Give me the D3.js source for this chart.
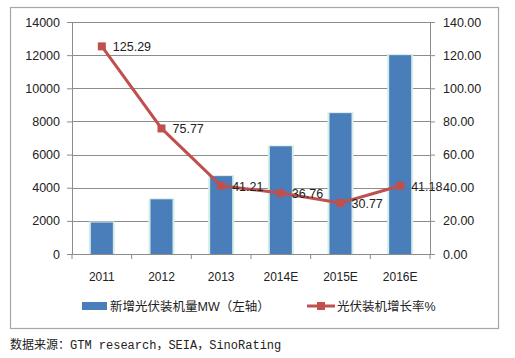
<!DOCTYPE html>
<html>
<head>
<meta charset="utf-8">
<script src="https://cdn.jsdelivr.net/npm/d3@7"></script>
<style>
  body { margin: 0; background: #fff; }
  text { font-family: "Liberation Sans", "Noto Sans CJK SC", sans-serif; fill: #222; }
</style>
</head>
<body>
<svg id="chart" width="515" height="358"></svg>
<script>
var years = ["2011", "2012", "2013", "2014E", "2015E", "2016E"];
var installMW = [1900, 3300, 4700, 6500, 8500, 12000];
var growthPct = [125.29, 75.77, 41.21, 36.76, 30.77, 41.18];
var leftTicks = [0, 2000, 4000, 6000, 8000, 10000, 12000, 14000];
var rightTicks = [0, 20, 40, 60, 80, 100, 120, 140];

var svg = d3.select("#chart");
var plotL = 72, plotR = 430, plotT = 22, plotB = 254;

// outer frame
svg.append("rect").attr("x", 10.5).attr("y", 7.5).attr("width", 488).attr("height", 321)
  .attr("fill", "#fff").attr("stroke", "#a6a6a6").attr("stroke-width", 1.2);

var x = d3.scaleBand().domain(years).range([plotL, plotR]);
var yL = d3.scaleLinear().domain([0, 14000]).range([plotB, plotT]);
var yR = d3.scaleLinear().domain([0, 140]).range([plotB, plotT]);

// gridlines
svg.append("g").selectAll("line").data(leftTicks.slice(1)).join("line")
  .attr("x1", plotL).attr("x2", plotR)
  .attr("y1", function (d) { return Math.round(yL(d)) + 0.5; })
  .attr("y2", function (d) { return Math.round(yL(d)) + 0.5; })
  .attr("stroke", "#8c8c8c").attr("stroke-width", 1);

// bars with a soft glow edge
var bw = 22;
svg.append("g").selectAll("rect").data(installMW).join("rect")
  .attr("x", function (d, i) { return x(years[i]) + x.bandwidth() / 2 - bw / 2 - 2; })
  .attr("y", function (d) { return yL(d) - 1; })
  .attr("width", bw + 4)
  .attr("height", function (d) { return plotB - yL(d) + 1; })
  .attr("fill", "#d6eee8");
svg.append("g").selectAll("rect").data(installMW).join("rect")
  .attr("x", function (d, i) { return x(years[i]) + x.bandwidth() / 2 - bw / 2; })
  .attr("y", function (d) { return yL(d); })
  .attr("width", bw)
  .attr("height", function (d) { return plotB - yL(d); })
  .attr("fill", "#4a7ebb");

// axes
var axL = svg.append("g").attr("transform", "translate(" + plotL + ",0)")
  .call(d3.axisLeft(yL).tickValues(leftTicks).tickSize(5).tickPadding(7).tickFormat(d3.format("d")));
var axR = svg.append("g").attr("transform", "translate(" + plotR + ",0)")
  .call(d3.axisRight(yR).tickValues(rightTicks).tickSize(5).tickPadding(8).tickFormat(d3.format(".2f")));
var axB = svg.append("g").attr("transform", "translate(0," + plotB + ")")
  .call(d3.axisBottom(x).tickSize(0).tickPadding(18));
[axL, axR, axB].forEach(function (a) {
  a.select(".domain").attr("stroke", "#8c8c8c");
  a.selectAll(".tick line").attr("stroke", "#8c8c8c");
  a.selectAll("text").style("font-size", "12.5px").attr("fill", "#262626")
    .style("font-family", "'Liberation Sans', sans-serif");
});
axB.selectAll("text").style("font-size", "12px");
// category boundary ticks on x axis
svg.append("g").selectAll("line").data(years.concat([null])).join("line")
  .attr("x1", function (d, i) { return plotL + i * x.step(); })
  .attr("x2", function (d, i) { return plotL + i * x.step(); })
  .attr("y1", plotB).attr("y2", plotB + 5)
  .attr("stroke", "#8c8c8c");

// growth line
var line = d3.line()
  .x(function (d, i) { return x(years[i]) + x.bandwidth() / 2; })
  .y(function (d) { return yR(d); });
svg.append("path").datum(growthPct).attr("d", line)
  .attr("fill", "none").attr("stroke", "#c0504d").attr("stroke-width", 3);
svg.append("g").selectAll("rect").data(growthPct).join("rect")
  .attr("x", function (d, i) { return x(years[i]) + x.bandwidth() / 2 - 4; })
  .attr("y", function (d) { return yR(d) - 4; })
  .attr("width", 8).attr("height", 8)
  .attr("fill", "#c0504d");
svg.append("g").selectAll("text").data(growthPct).join("text")
  .attr("x", function (d, i) { return x(years[i]) + x.bandwidth() / 2 + 11; })
  .attr("y", function (d) { return yR(d) + 5; })
  .style("font-size", "12.5px").attr("fill", "#262626")
  .text(function (d) { return d3.format(".2f")(d); });

// legend
var lg = svg.append("g");
lg.append("rect").attr("x", 82).attr("y", 302).attr("width", 25).attr("height", 8).attr("fill", "#4a7ebb");
lg.append("text").attr("x", 110).attr("y", 311).style("font-size", "12.5px").text("新增光伏装机量MW（左轴）");
lg.append("line").attr("x1", 307).attr("x2", 335).attr("y1", 306).attr("y2", 306)
  .attr("stroke", "#c0504d").attr("stroke-width", 3);
lg.append("rect").attr("x", 317).attr("y", 302).attr("width", 8).attr("height", 8).attr("fill", "#c0504d");
lg.append("text").attr("x", 337).attr("y", 311).style("font-size", "12.5px").text("光伏装机增长率%");

// source note
svg.append("text").attr("x", 10).attr("y", 349)
  .style("font-family", "'Liberation Mono', 'Noto Sans CJK SC', monospace")
  .style("font-size", "12px").attr("fill", "#333")
  .text("数据来源：GTM research，SEIA，SinoRating");
</script>
</body>
</html>
